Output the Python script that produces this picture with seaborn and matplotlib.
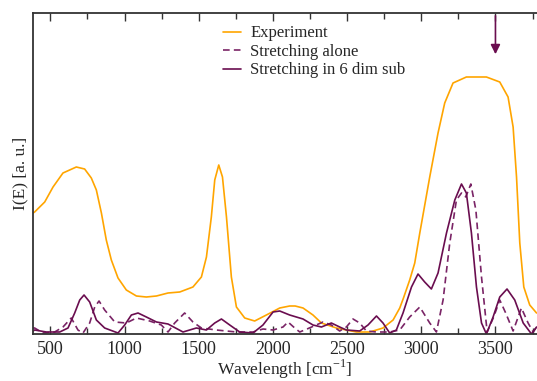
import numpy as np
import pandas as pd
import matplotlib
matplotlib.use('Agg')
import matplotlib.pyplot as plt
from matplotlib.ticker import MultipleLocator
import seaborn as sns

# values (intensity in arbitrary units)
exp_wn = [383, 394, 462, 518, 585, 675, 731, 776, 810, 844, 877, 911, 956, 1012, 1080,
          1147, 1215, 1293, 1372, 1461, 1518, 1552, 1585, 1608, 1635, 1660, 1687, 1720,
          1754, 1810, 1877, 1956, 2046, 2113, 2150, 2203, 2270, 2327, 2428, 2563, 2653,
          2742, 2810, 2855, 2880, 2922, 2956, 2990, 3057, 3113, 3158, 3214, 3304, 3439,
          3529, 3585, 3619, 3642, 3664, 3691, 3731, 3777]
exp_int = [1.21, 1.22, 1.32, 1.47, 1.61, 1.67, 1.65, 1.56, 1.44, 1.21, 0.94, 0.74, 0.56, 0.44, 0.38,
           0.37, 0.38, 0.41, 0.42, 0.47, 0.57, 0.77, 1.17, 1.54, 1.69, 1.57, 1.17, 0.57,
           0.27, 0.16, 0.13, 0.19, 0.26, 0.28, 0.28, 0.26, 0.19, 0.11, 0.06, 0.02, 0.02,
           0.06, 0.14, 0.26, 0.36, 0.54, 0.71, 1.01, 1.57, 2.01, 2.31, 2.51, 2.57, 2.57,
           2.52, 2.37, 2.07, 1.57, 0.91, 0.47, 0.29, 0.21]

sub_wn = [383, 394, 473, 563, 619, 664, 698, 727, 765, 810, 866, 956, 1001, 1046, 1091,
          1147, 1215, 1293, 1394, 1484, 1552, 1608, 1653, 1709, 1776, 1866, 1933, 2001,
          2046, 2113, 2203, 2270, 2327, 2394, 2450, 2495, 2585, 2641, 2698, 2742, 2787,
          2832, 2877, 2934, 2978, 3023, 3068, 3113, 3170, 3226, 3271, 3304, 3338, 3372,
          3406, 3439, 3484, 3529, 3578, 3630, 3687, 3743, 3777]
sub_int = [0.03, 0.04, 0.02, 0.02, 0.06, 0.21, 0.34, 0.39, 0.32, 0.14, 0.06, 0.01, 0.09, 0.19, 0.21,
           0.17, 0.12, 0.10, 0.02, 0.06, 0.04, 0.11, 0.15, 0.09, 0.02, 0.01, 0.09, 0.22,
           0.23, 0.19, 0.15, 0.09, 0.07, 0.11, 0.07, 0.04, 0.03, 0.09, 0.18, 0.11, 0.01,
           0.04, 0.21, 0.47, 0.60, 0.52, 0.45, 0.61, 1.01, 1.34, 1.50, 1.41, 1.01, 0.47,
           0.11, 0.00, 0.17, 0.37, 0.45, 0.34, 0.11, 0.00, 0.07]

alone_wn = [383, 394, 450, 529, 585, 641, 686, 720, 765, 799, 828, 866, 934, 1012, 1080,
            1169, 1248, 1293, 1338, 1405, 1461, 1518, 1619, 1754, 1866, 1933, 2001, 2068,
            2102, 2147, 2181, 2230, 2338, 2394, 2450, 2495, 2540, 2585, 2630, 2698, 2787,
            2855, 2922, 2990, 3057, 3102, 3147, 3192, 3237, 3271, 3300, 3334, 3368, 3406,
            3444, 3488, 3529, 3569, 3619, 3675, 3720, 3754, 3777]
alone_int = [0.06, 0.06, 0.01, 0.02, 0.07, 0.16, 0.04, 0.01, 0.11, 0.27, 0.33, 0.24, 0.12, 0.11, 0.16,
             0.13, 0.09, 0.02, 0.11, 0.21, 0.12, 0.06, 0.04, 0.02, 0.02, 0.05, 0.04, 0.07,
             0.12, 0.06, 0.02, 0.05, 0.12, 0.09, 0.03, 0.07, 0.15, 0.11, 0.03, 0.02, 0.02,
             0.04, 0.17, 0.27, 0.11, 0.02, 0.34, 0.91, 1.34, 1.41, 1.37, 1.50, 1.24, 0.57,
             0.02, 0.17, 0.34, 0.21, 0.03, 0.26, 0.11, 0.02, 0.07]

arrow_wn = 3500

orange = '#ffa500'
purple = '#6a0d4f'

sns.set_theme(style='ticks')
plt.rcParams['font.family'] = ['Liberation Serif', 'DejaVu Serif']

df = pd.concat([
    pd.DataFrame({'wn': exp_wn, 'I': exp_int, 'series': 'Experiment'}),
    pd.DataFrame({'wn': alone_wn, 'I': alone_int, 'series': 'Stretching alone'}),
    pd.DataFrame({'wn': sub_wn, 'I': sub_int, 'series': 'Stretching in 6 dim sub'}),
])

fig = plt.figure(figsize=(5.37, 3.81), dpi=100)
ax = fig.add_axes([33 / 537, 47 / 381, 1 - 33 / 537, 321 / 381])

sns.lineplot(data=df, x='wn', y='I', hue='series', style='series', sort=False,
             palette={'Experiment': orange, 'Stretching alone': '#7a2466',
                      'Stretching in 6 dim sub': purple},
             dashes={'Experiment': '', 'Stretching alone': (4, 2.5),
                     'Stretching in 6 dim sub': ''},
             linewidth=1.2, ax=ax)

ax.annotate('', xy=(arrow_wn, 2.77), xytext=(arrow_wn, 3.21),
            arrowprops=dict(arrowstyle='-|>', color=purple, lw=1.2, mutation_scale=14))

ax.set_xlim(383, 3780)
ax.set_ylim(0, 3.21)
ax.xaxis.set_major_locator(MultipleLocator(500))
ax.xaxis.set_minor_locator(MultipleLocator(250))
ax.set_yticks([])
ax.tick_params(axis='x', which='both', direction='in', top=True, bottom=True,
               labelsize=13, color='#333333', pad=5)
ax.tick_params(axis='x', which='major', length=6, width=1)
ax.tick_params(axis='x', which='minor', length=4, width=1)
for s in ['left', 'top', 'bottom']:
    ax.spines[s].set_color('#333333')
    ax.spines[s].set_linewidth(1.3)
ax.spines['right'].set_visible(False)

ax.set_xlabel('Wavelength [cm$^{\\mathregular{-1}}$]', fontsize=12.5, labelpad=0)
ax.set_ylabel('I(E) [a. u.]', fontsize=12.5, labelpad=3)

leg = ax.legend(loc='upper left', bbox_to_anchor=(0.352, 1.0), frameon=False,
                fontsize=12, handlelength=1.1, handletextpad=0.55,
                labelspacing=0.15, borderaxespad=0.35)
for line in leg.get_lines():
    line.set_linewidth(1.2)

fig.savefig('out.png', dpi=100)
